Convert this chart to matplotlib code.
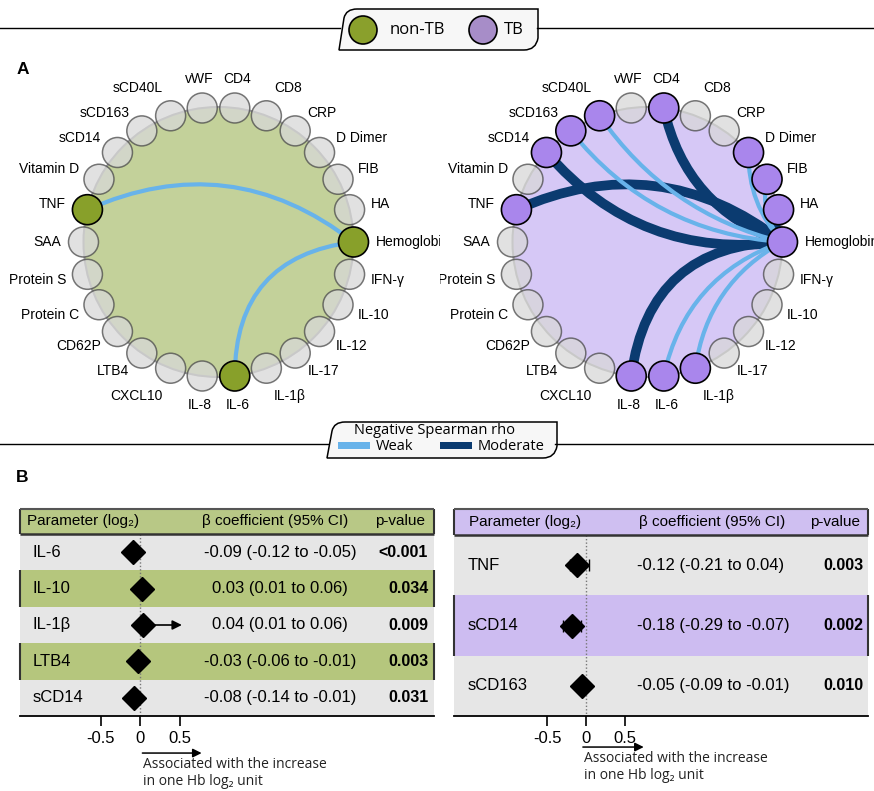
import numpy as np
import matplotlib.pyplot as plt
from matplotlib.patches import Circle, PathPatch, Rectangle
from matplotlib.path import Path

plt.rcParams['font.family'] = ['Liberation Sans', 'DejaVu Sans']

# ---- network data (counter-clockwise from Hemoglobin) ----
nodes = ["Hemoglobin", "HA", "FIB", "D Dimer", "CRP", "CD8", "CD4", "vWF",
         "sCD40L", "sCD163", "sCD14", "Vitamin D", "TNF", "SAA", "Protein S",
         "Protein C", "CD62P", "LTB4", "CXCL10", "IL-8", "IL-6", "IL-1β",
         "IL-17", "IL-12", "IL-10", "IFN-γ"]
hub = "Hemoglobin"

nontb_hits = ["Hemoglobin", "TNF", "IL-6"]
nontb_edges = [("TNF", "Weak"), ("IL-6", "Weak")]

tb_hits = ["Hemoglobin", "HA", "FIB", "D Dimer", "CD4", "sCD40L", "sCD163",
           "sCD14", "TNF", "IL-8", "IL-6", "IL-1β"]
tb_edges = [("TNF", "Moderate"), ("sCD14", "Moderate"), ("sCD163", "Weak"),
            ("sCD40L", "Weak"), ("CD4", "Moderate"), ("D Dimer", "Weak"),
            ("FIB", "Weak"), ("HA", "Moderate"), ("IL-8", "Moderate"),
            ("IL-6", "Weak"), ("IL-1β", "Weak")]

groups = ["non-TB", "TB"]
strengths = ["Weak", "Moderate"]

# ---- forest plot data ----
nontb_params = ["IL-6", "IL-10", "IL-1β", "LTB4", "sCD14"]
nontb_beta = [-0.09, 0.03, 0.04, -0.03, -0.08]
nontb_lo = [-0.12, 0.01, 0.01, -0.06, -0.14]
nontb_hi = [-0.05, 0.06, 0.06, -0.01, -0.01]
nontb_p = ["<0.001", "0.034", "0.009", "0.003", "0.031"]
nontb_arrow_to = [None, None, 0.53, None, None]

tb_params = ["TNF", "sCD14", "sCD163"]
tb_beta = [-0.12, -0.18, -0.05]
tb_lo = [-0.21, -0.29, -0.09]
tb_hi = [0.04, -0.07, -0.01]
tb_p = ["0.003", "0.002", "0.010"]

# ---- styles ----
group_colors = {"non-TB": "#8aa02c", "TB": "#a78dc8"}
edge_colors = {"Weak": "#68b3ea", "Moderate": "#0b3b70"}
edge_widths = {"Weak": 3.0, "Moderate": 7.0}
nontb_bends = {"TNF": -0.3, "IL-6": 0.44}
tb_bends = {"TNF": -0.3, "sCD14": 0.27, "sCD163": 0.22, "sCD40L": 0.19,
            "CD4": 0.28, "D Dimer": 0.2, "FIB": 0.25, "HA": 0.3,
            "IL-8": 0.43, "IL-6": 0.28, "IL-1β": 0.25}

W, H = 874, 791
fig = plt.figure(figsize=(W / 100, H / 100), dpi=100)


def place(x0, y0, x1, y1):
    return fig.add_axes([x0 / W, 1 - y1 / H, (x1 - x0) / W, (y1 - y0) / H])


def px_axes(x0, y0, x1, y1):
    ax = place(x0, y0, x1, y1)
    ax.set_xlim(x0, x1)
    ax.set_ylim(y1, y0)
    ax.axis('off')
    return ax


def draw_network(ax, cx, cy, disc, hit_col, hits, edges, bends):
    R = 135
    ax.add_patch(Circle((cx, cy), R, fc=disc, ec='#9c9c9c', lw=1.5, zorder=1))
    step = 2 * np.pi / len(nodes)
    ang = {n: i * step for i, n in enumerate(nodes)}
    pos = {n: np.array([cx + R * np.cos(a), cy - R * np.sin(a)]) for n, a in ang.items()}
    for s in ["Moderate", "Weak"]:
        for name, strength in edges:
            if strength != s:
                continue
            p0, p2 = pos[name], pos[hub]
            mid = (p0 + p2) / 2
            d = p2 - p0
            L = np.hypot(*d)
            nrm = np.array([-d[1], d[0]]) / L
            if np.dot(nrm, np.array([cx, cy]) - mid) < 0:
                nrm = -nrm
            c = mid + nrm * bends[name] * L
            path = Path([p0, c, p2], [Path.MOVETO, Path.CURVE3, Path.CURVE3])
            ax.add_patch(PathPatch(path, fill=False, ec=edge_colors[s],
                                   lw=edge_widths[s], capstyle='butt', zorder=2))
    for name in nodes:
        x, y = pos[name]
        if name in hits:
            ax.add_patch(Circle((x, y), 15, fc=hit_col, ec='black', lw=1.2, zorder=4))
        else:
            ax.add_patch(Circle((x, y), 15, fc='#d8d8d8', ec='#4a4a4a', lw=1.1,
                                alpha=0.75, zorder=3))
        ca, sa = np.cos(ang[name]), np.sin(ang[name])
        ha = 'center' if abs(ca) < 0.13 else ('left' if ca > 0 else 'right')
        va = 'bottom' if sa > 0.9 else ('top' if sa < -0.9 else 'center')
        ax.text(x + 22 * ca, y - 22 * sa, name, ha=ha, va=va, fontsize=10,
                clip_on=True, zorder=5)


left = px_axes(0, 55, 440, 420)
draw_network(left, 218.5, 242, '#c3d19a', '#88a02a', nontb_hits, nontb_edges, nontb_bends)
right = px_axes(440, 55, 874, 420)
draw_network(right, 647.5, 242, '#d6c8f6', '#a986ec', tb_hits, tb_edges, tb_bends)


def forest(x0, x1, zero_px, ppu, head_px, params, beta, lo, hi, pvals,
           colored, row_col, head_col, cols, val_ha, p_fs, arrow_to=None):
    y0, y1 = 509, 716
    ax = place(x0, y0, x1, y1)
    n = len(params)
    hh = head_px / ((y1 - y0 - head_px) / n)
    ax.set_xlim((x0 - zero_px) / ppu, (x1 - zero_px) / ppu)
    ax.set_ylim(n - 0.5, -0.5 - hh)
    ax.patch.set_alpha(0)
    xl = ax.get_xlim()
    for i in range(n):
        ax.axhspan(i - 0.5, i + 0.5, color=row_col if i in colored else '#e6e6e6', lw=0, zorder=0)
        if i in colored:
            ax.vlines([xl[0], xl[1]], i - 0.5, i + 0.5, color='#333333', lw=1.5, clip_on=False)
    ax.axhspan(-0.5 - hh, -0.5, color=head_col, lw=0, zorder=0)
    ax.vlines([xl[0], xl[1]], -0.5 - hh, -0.5, color='#333333', lw=1.5, clip_on=False)
    ax.hlines([-0.5 - hh], xl[0], xl[1], color='#555555', lw=1.5, clip_on=False)
    ax.hlines([-0.5], xl[0], xl[1], color='#333333', lw=1.8, clip_on=False)
    ax.vlines(0, -0.5, n - 0.5, colors='#777777', linestyles=(0, (1, 1.5)), lw=1, zorder=1)
    rows = np.arange(n)
    b = np.array(beta)
    ax.errorbar(b, rows, xerr=[b - np.array(lo), np.array(hi) - b], fmt='D', ms=12,
                color='black', ecolor='black', elinewidth=1.2, capsize=4, zorder=3)
    if arrow_to is not None:
        for i, xe in enumerate(arrow_to):
            if xe is not None:
                ax.annotate('', xy=(xe, i), xytext=(beta[i], i),
                            arrowprops=dict(arrowstyle='-|>', color='black', lw=1.2,
                                            mutation_scale=14, shrinkA=0, shrinkB=0))
    for s in ['top', 'left', 'right']:
        ax.spines[s].set_visible(False)
    ax.spines['bottom'].set_linewidth(1.3)
    ax.set_yticks([])
    ax.set_xticks([-0.5, 0, 0.5])
    ax.set_xticklabels(['-0.5', '0', '0.5'])
    ax.tick_params(axis='x', direction='out', length=7, width=1.2, labelsize=12, pad=4)
    tr = ax.get_yaxis_transform()
    hy = -0.5 - hh / 2
    ax.text(cols[0], hy, 'Parameter (log₂)', transform=tr, fontsize=11, va='center')
    ax.text(cols[1], hy, 'β coefficient (95% CI)', transform=tr, fontsize=11, va='center')
    ax.text(cols[2], hy, 'p-value', transform=tr, fontsize=11, va='center')
    for i in range(n):
        ax.text(cols[3], i, params[i], transform=tr, fontsize=12, va='center')
        ax.text(cols[4], i, '%.2f (%.2f to %.2f)' % (beta[i], lo[i], hi[i]),
                transform=tr, fontsize=12, va='center', ha=val_ha)
        ax.text(cols[5], i, pvals[i], transform=tr, fontsize=p_fs, va='center',
                ha='right', fontweight='bold')
    return ax


fl = forest(20, 434, 140, 79, 25, nontb_params, nontb_beta, nontb_lo, nontb_hi, nontb_p,
            [1, 3], '#b5c67d', '#b8c886', [0.017, 0.44, 0.857, 0.031, 0.628, 0.986],
            'center', 11.5, nontb_arrow_to)
fr = forest(454, 868, 586, 78, 26, tb_params, tb_beta, tb_lo, tb_hi, tb_p,
            [1], '#cdbcf1', '#cfbff1', [0.036, 0.447, 0.86, 0.034, 0.442, 0.99],
            'left', 11.5)

note = 'Associated with the increase\nin one Hb log₂ unit'
for ax, x_a, x_b, y_ar, y_tx in [(fl, 0.03, 0.78, -0.179, -0.197), (fr, -0.04, 0.74, -0.15, -0.169)]:
    ax.annotate('', xy=(x_b, y_ar), xytext=(x_a, y_ar), xycoords=('data', 'axes fraction'),
                textcoords=('data', 'axes fraction'),
                arrowprops=dict(arrowstyle='-|>', color='black', lw=1.1, mutation_scale=13,
                                shrinkA=0, shrinkB=0), annotation_clip=False)
    ax.text(x_a + 0.01, y_tx, note, transform=ax.get_xaxis_transform(), va='top', ha='left',
            fontsize=10, family=['Open Sans', 'DejaVu Sans'], color='#222222', linespacing=1.2)

# ---- overlay: dividers, legends, panel letters ----
ov = px_axes(0, 0, W, H)
ov.set_zorder(10)


def tab(x0, y0, x1, y1):
    verts = [(x0, y1), (x0 + 5, y0 + 9), (x0 + 7, y0), (x0 + 18, y0), (x1, y0),
             (x1, y1 - 12), (x1 - 2, y1), (x1 - 14, y1), (x0, y1)]
    codes = [Path.MOVETO, Path.LINETO, Path.CURVE3, Path.CURVE3, Path.LINETO,
             Path.LINETO, Path.CURVE3, Path.CURVE3, Path.CLOSEPOLY]
    ov.add_patch(PathPatch(Path(verts, codes), fc='#f7f7f7', ec='black', lw=1.1))


ov.plot([0, 340], [28, 28], color='black', lw=1)
ov.plot([537, W], [28, 28], color='black', lw=1)
tab(339, 9, 538, 50)
for g, cxp, txp in zip(groups, [363, 483], [390, 504]):
    ov.add_patch(Circle((cxp, 30), 14, fc=group_colors[g], ec='black', lw=1.2))
    ov.text(txp, 30, g, fontsize=12, va='center', family=['Open Sans', 'DejaVu Sans'])

ov.plot([0, 328], [444, 444], color='black', lw=1)
ov.plot([555, W], [444, 444], color='black', lw=1)
tab(327, 422, 557, 458)
ov.text(435, 430, 'Negative Spearman rho', fontsize=10.5, ha='center', va='center',
        family=['Open Sans', 'DejaVu Sans'])
for s, xp in zip(strengths, [338, 440]):
    ov.add_patch(Rectangle((xp, 441.5), 32, 7, fc=edge_colors[s], lw=0))
    ov.text(xp + 38, 446, s, fontsize=10.5, va='center', family=['Open Sans', 'DejaVu Sans'])

ov.text(23, 70, 'A', fontsize=12.5, fontweight='bold', ha='center', va='center')
ov.text(22, 477, 'B', fontsize=12.5, fontweight='bold', ha='center', va='center')

fig.savefig('out.png', dpi=100)
